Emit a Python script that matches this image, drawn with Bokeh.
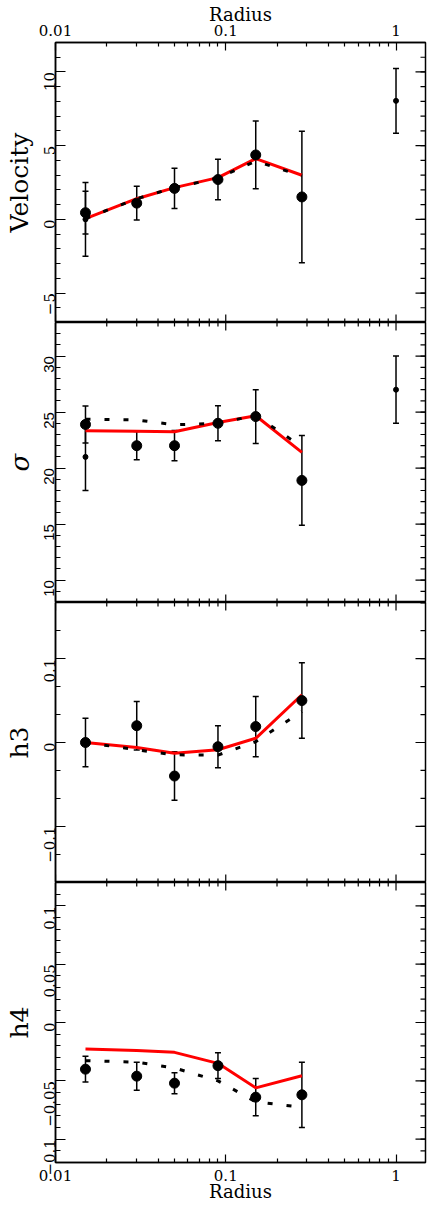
import math
from bokeh.plotting import figure
from bokeh.models import Range1d, LinearAxis, LogAxis, FixedTicker, ColumnDataSource, Whisker, TeeHead
from bokeh.layouts import column
from bokeh.embed import file_html
from bokeh.resources import INLINE

# ---------------- data ----------------
radius = [0.015, 0.03, 0.05, 0.09, 0.15, 0.28]
model_r = [0.015, 0.03, 0.05, 0.09, 0.15, 0.28]
extra_r = [0.015, 1.0]

vel = [0.45, 1.1, 2.1, 2.7, 4.37, 1.52]
vel_err = [1.45, 1.15, 1.37, 1.37, 2.3, 4.46]
vel_extra = [0.0, 8.04]
vel_extra_err = [2.5, 2.2]
vel_red = [0.05, 1.4, 2.15, 2.83, 4.12, 2.99]
vel_dot = [0.05, 1.4, 2.15, 2.8, 3.95, 2.95]

sig = [23.9, 22.0, 22.0, 24.0, 24.6, 18.9]
sig_err = [1.65, 1.26, 1.35, 1.56, 2.4, 4.0]
sig_extra = [21.0, 27.0]
sig_extra_err = [3.0, 3.0]
sig_red = [23.33, 23.3, 23.24, 24.07, 24.67, 21.4]
sig_dot = [24.37, 24.3, 23.87, 24.0, 24.7, 21.9]

h3 = [0.0, 0.02, -0.04, -0.005, 0.019, 0.05]
h3_err = [0.029, 0.029, 0.029, 0.025, 0.036, 0.045]
h3_red = [0.0, -0.006, -0.0127, -0.0087, 0.005, 0.057]
h3_dot = [0.0, -0.0087, -0.0147, -0.015, 0.001, 0.037]

h4 = [-0.040, -0.046, -0.052, -0.037, -0.064, -0.062]
h4_err = [0.011, 0.012, 0.009, 0.011, 0.016, 0.028]
h4_red = [-0.0228, -0.024, -0.0256, -0.035, -0.056, -0.0456]
h4_dot = [-0.0327, -0.034, -0.039, -0.050, -0.068, -0.0727]

# ticks and labels
x_ticks = [0.01, 0.1, 1]
x_tick_labels = ["0.01", "0.1", "1"]
x_minor = [m * d for d in (0.01, 0.1, 1) for m in range(2, 10)]

vel_ticks = [-5, 0, 5, 10]
vel_labels = ["\u22125", "0", "5", "10"]
sig_ticks = [10, 15, 20, 25, 30]
sig_labels = ["10", "15", "20", "25", "30"]
h3_ticks = [-0.1, 0, 0.1]
h3_labels = ["\u22120.1", "0", "0.1"]
h4_ticks = [-0.1, -0.05, 0, 0.05, 0.1]
h4_labels = ["\u22120.1", "\u22120.05", "0", "0.05", "0.1"]

SERIF = "DejaVu Serif"
XR = (0.01, 1.49)


def minor_list(lo, hi, step):
    n0 = math.ceil(lo / step - 1e-9)
    n1 = math.floor(hi / step + 1e-9)
    return [round(i * step, 6) for i in range(n0, n1 + 1)]


def style_axis(ax, major_in, minor_in):
    ax.major_tick_in = major_in
    ax.major_tick_out = 0
    ax.minor_tick_in = minor_in
    ax.minor_tick_out = 0
    ax.axis_line_color = "black"
    ax.axis_line_width = 1.5
    ax.major_tick_line_color = "black"
    ax.major_tick_line_width = 1.2
    ax.minor_tick_line_color = "black"
    ax.minor_tick_line_width = 1.2
    ax.major_label_text_color = "black"
    ax.axis_label_text_color = "black"


def x_axis():
    ax = LogAxis(ticker=FixedTicker(ticks=x_ticks, minor_ticks=x_minor))
    style_axis(ax, 8, 4)
    ax.major_label_overrides = dict(zip(x_ticks, x_tick_labels))
    ax.major_label_text_font = SERIF
    ax.major_label_text_font_size = "15px"
    ax.major_label_standoff = 7
    ax.axis_label = "Radius"
    ax.axis_label_text_font = SERIF
    ax.axis_label_text_font_size = "18px"
    ax.axis_label_text_font_style = "normal"
    ax.axis_label_standoff = -3
    return ax


def edge_ticks(p, ticks, yminor, top, bottom):
    # tick marks along the right edge (and along top/bottom edges without an axis)
    n, m = len(ticks), len(yminor)
    p.ray(x=[XR[1]] * n, y=ticks, length=10, length_units="screen", angle=math.pi,
          line_color="black", line_width=1.2)
    p.ray(x=[XR[1]] * m, y=yminor, length=5, length_units="screen", angle=math.pi,
          line_color="black", line_width=1.2)
    for edge, ang in ((top, -math.pi / 2), (bottom, math.pi / 2)):
        if edge is None:
            continue
        p.ray(x=x_ticks, y=[edge] * len(x_ticks), length=8, length_units="screen",
              angle=ang, line_color="black", line_width=1.2)
        p.ray(x=x_minor, y=[edge] * len(x_minor), length=4, length_units="screen",
              angle=ang, line_color="black", line_width=1.2)


def make_panel(ylabel, yr, ticks, labels, minor_step, fh, top_b, bot_b,
               show_top=False, show_bottom=False, tick_font=SERIF, label_font=SERIF,
               label_size="25px"):
    p = figure(width=428, height=fh + top_b + bot_b, x_axis_type="log",
               x_range=Range1d(*XR), y_range=Range1d(*yr),
               x_axis_location=None, y_axis_location=None,
               output_backend="svg", toolbar_location=None,
               min_border_left=55, min_border_right=3,
               min_border_top=top_b, min_border_bottom=bot_b)
    p.xgrid.visible = False
    p.ygrid.visible = False
    p.outline_line_color = "black"
    p.outline_line_width = 1.5
    p.background_fill_color = "white"
    p.border_fill_color = "white"

    yminor = minor_list(yr[0], yr[1], minor_step)

    left = LinearAxis(ticker=FixedTicker(ticks=ticks, minor_ticks=yminor))
    style_axis(left, 10, 5)
    left.major_label_overrides = dict(zip(ticks, labels))
    left.major_label_orientation = math.pi / 2
    left.major_label_text_font = tick_font
    left.major_label_text_font_size = "15px"
    left.major_label_standoff = 6
    left.axis_label = ylabel
    left.axis_label_text_font = label_font
    left.axis_label_text_font_size = label_size
    left.axis_label_text_font_style = "normal"
    left.axis_label_standoff = 2
    p.add_layout(left, "left")

    if show_top:
        p.add_layout(x_axis(), "above")
    if show_bottom:
        p.add_layout(x_axis(), "below")
    edge_ticks(p, ticks, yminor,
               None if show_top else yr[1], None if show_bottom else yr[0])
    return p


def add_data(p, y, yerr, red, dot, extra=None, extra_err=None):
    p.line(model_r, red, line_color="red", line_width=3)
    p.line(model_r, dot, line_color="black", line_width=3, line_dash="5 14")
    src = ColumnDataSource(dict(x=radius, y=y,
                                lo=[a - b for a, b in zip(y, yerr)],
                                hi=[a + b for a, b in zip(y, yerr)]))
    p.add_layout(Whisker(base="x", lower="lo", upper="hi", source=src, dimension="height",
                         line_color="black", line_width=1.5,
                         lower_head=TeeHead(size=6, line_width=1.5, line_color="black"),
                         upper_head=TeeHead(size=6, line_width=1.5, line_color="black")))
    if extra is not None:
        src2 = ColumnDataSource(dict(x=extra_r, y=extra,
                                     lo=[a - b for a, b in zip(extra, extra_err)],
                                     hi=[a + b for a, b in zip(extra, extra_err)]))
        p.add_layout(Whisker(base="x", lower="lo", upper="hi", source=src2, dimension="height",
                             line_color="black", line_width=1.5,
                             lower_head=TeeHead(size=6, line_width=1.5, line_color="black"),
                             upper_head=TeeHead(size=6, line_width=1.5, line_color="black")))
        p.scatter("x", "y", source=src2, size=5, color="black")
    p.scatter("x", "y", source=src, size=10, color="black")


p1 = make_panel("Velocity", (-7, 12), vel_ticks, vel_labels, 1, 280, 42, 0, show_top=True)
add_data(p1, vel, vel_err, vel_red, vel_dot, vel_extra, vel_extra_err)

p2 = make_panel("\u03c3", (8, 33), sig_ticks, sig_labels, 1, 280, 0, 0,
                tick_font="Liberation Sans", label_font="DejaVu Serif", label_size="26px")
p2.yaxis[0].axis_label_text_font_style = "italic"
add_data(p2, sig, sig_err, sig_red, sig_dot, sig_extra, sig_extra_err)

p3 = make_panel("h3", (-0.167, 0.167), h3_ticks, h3_labels, 0.1 / 3, 280, 0, 0)
add_data(p3, h3, h3_err, h3_red, h3_dot)

p4 = make_panel("h4", (-0.12, 0.12), h4_ticks, h4_labels, 0.01, 280, 0, 42, show_bottom=True)
add_data(p4, h4, h4_err, h4_red, h4_dot)

layout = column(p1, p2, p3, p4, spacing=0)
open("out.html", "w").write(file_html(layout, INLINE))
